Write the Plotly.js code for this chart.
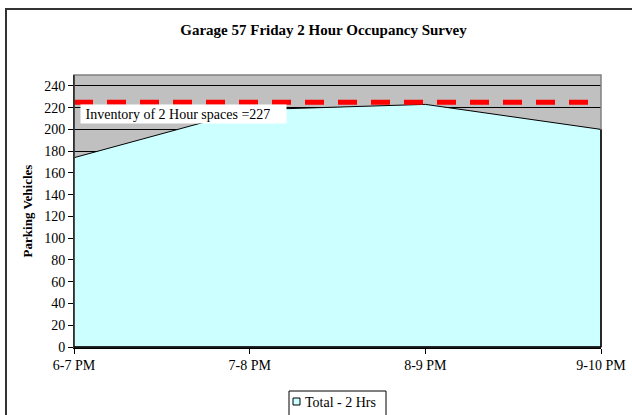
<!DOCTYPE html>
<html><head><meta charset="utf-8">
<script src="https://cdn.plot.ly/plotly-3.0.1.min.js"></script>
<style>html,body{margin:0;padding:0;background:#fff}</style>
</head><body>
<div id="chart" style="width:632px;height:415px"></div>
<script>
const categories = ["6-7 PM", "7-8 PM", "8-9 PM", "9-10 PM"];
const totalTwoHrs = [174, 218, 223, 200];
const inventory = [225, 225, 225, 225];
const inventoryLabel = "Inventory of 2 Hour spaces =227";
const legendLabel = "Total - 2 Hrs";
const yTicks = [0,20,40,60,80,100,120,140,160,180,200,220,240];

const xs = categories.map((c, i) => i);
const font = "'Liberation Serif', 'Times New Roman', serif";

// plot-area pixel helpers for decorations (plot spans x 74..601, y 75..347)
const px = x => (x - 74) / 527;
const py = y => (347 - y) / 272;

const traces = [
  {x: xs, y: totalTwoHrs, type: "scatter", mode: "lines", fill: "tozeroy",
   fillcolor: "#CCFFFF", line: {color: "#000", width: 1}, showlegend: false, hoverinfo: "skip"},
  {x: xs, y: inventory, type: "scatter", mode: "lines",
   line: {color: "#FF0000", width: 5, dash: "19px,14px"}, showlegend: false, hoverinfo: "skip"}
];

const layout = {
  width: 632, height: 415,
  margin: {l: 74, r: 31, t: 75, b: 68, autoexpand: false},
  paper_bgcolor: "#fff", plot_bgcolor: "#C0C0C0",
  font: {family: font, size: 14, color: "#000"},
  showlegend: false,
  title: {text: "<b>Garage 57 Friday 2 Hour Occupancy Survey</b>", xref: "container", x: 323.5/632,
          xanchor: "center", yref: "container", y: 1 - 30/415, yanchor: "middle",
          font: {family: font, size: 15, color: "#000"}},
  xaxis: {range: [0, 3], tickvals: xs, ticktext: categories, showgrid: false, zeroline: false,
          ticks: "outside", ticklen: 5, tickcolor: "#000", showline: true, linecolor: "#000", linewidth: 1.5,
          tickfont: {family: font, size: 14}, fixedrange: true},
  yaxis: {range: [0, 250], tickvals: yTicks, showgrid: true, gridcolor: "#000", gridwidth: 1,
          zeroline: false, ticks: "outside", ticklen: 5, tickcolor: "#000", showline: true,
          linecolor: "#000", linewidth: 1, tickfont: {family: font, size: 14},
          title: {text: "<b>Parking Vehicles</b>", font: {family: font, size: 13}, standoff: 8},
          fixedrange: true},
  annotations: [
    {xref: "paper", yref: "paper", x: px(80), y: py(114), xanchor: "left", yanchor: "middle",
     text: "&nbsp;" + inventoryLabel, showarrow: false, bgcolor: "#fff", borderpad: 1,
     width: 203, height: 16, align: "left",
     font: {family: font, size: 14, color: "#000"}},
    {xref: "paper", yref: "paper", x: px(303), y: py(402), xanchor: "left", yanchor: "middle",
     text: legendLabel, showarrow: false, font: {family: font, size: 14, color: "#000"}}
  ],
  shapes: [
    {type: "rect", xref: "paper", yref: "paper", x0: 0, x1: 1, y0: 0, y1: 1,
     line: {color: "#808080", width: 1.5}, fillcolor: "rgba(0,0,0,0)", layer: "above"},
    {type: "line", xref: "paper", yref: "paper", x0: 0, x1: 0, y0: 0, y1: 1,
     line: {color: "#000", width: 1}},
    {type: "line", xref: "paper", yref: "paper", x0: 1, x1: 1, y0: 0, y1: 200/250,
     line: {color: "#000", width: 1.5}},
    {type: "line", xref: "paper", yref: "paper", x0: 0, x1: 1, y0: 0, y1: 0,
     line: {color: "#000", width: 1.5}},
    {type: "rect", xref: "paper", yref: "paper", x0: px(6), x1: 1.2, y0: -0.5, y1: py(9),
     line: {color: "#333", width: 2}, fillcolor: "rgba(0,0,0,0)"},
    {type: "rect", xref: "paper", yref: "paper", x0: px(289), x1: px(386), y0: py(440), y1: py(391),
     line: {color: "#000", width: 1}, fillcolor: "#fff"},
    {type: "rect", xref: "paper", yref: "paper", x0: px(293), x1: px(300), y0: py(405), y1: py(398),
     line: {color: "#000", width: 1}, fillcolor: "#CCFFFF"}
  ]
};

Plotly.newPlot("chart", traces, layout, {displayModeBar: false, staticPlot: true});
</script>
</body></html>
